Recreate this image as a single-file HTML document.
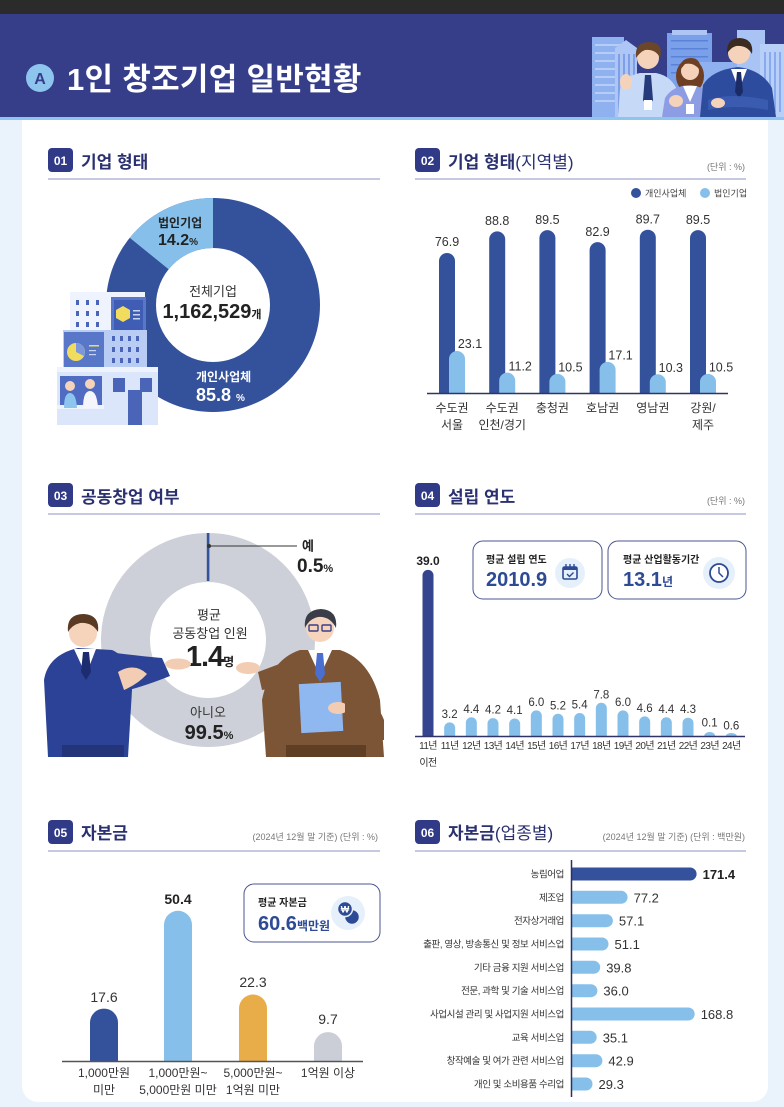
<!DOCTYPE html>
<html><head><meta charset="utf-8">
<style>
html,body{margin:0;padding:0;background:#eaf2fc;}
svg{display:block}
text{font-family:"Liberation Sans","Noto Sans CJK KR",sans-serif;fill:#333}
.b{font-weight:700}
.h{font-weight:700;fill:#2b3170;font-size:17px}
.hr{font-weight:400;fill:#2b3170;font-size:17px}
.badge{fill:#fff;font-weight:700;font-size:12px}
.u{font-size:9px;fill:#777}
.v2{font-size:12.5px;fill:#333}
.cat{font-size:12px;fill:#333}
.yr{font-size:10px;fill:#333;letter-spacing:-0.6px}
.v4{font-size:11.5px;fill:#333}
.c6{font-size:9.5px;fill:#333;letter-spacing:-0.4px}
.v6{font-size:13px;fill:#333}
</style></head><body>
<svg width="784" height="1107" viewBox="0 0 784 1107" xmlns="http://www.w3.org/2000/svg">
<rect width="784" height="1107" fill="#eaf2fc"/>
<rect x="22" y="100" width="746" height="1002" rx="16" fill="#fff"/>

<!-- HEADER -->
<rect x="0" y="0" width="784" height="14" fill="#2b2b2b"/>
<rect x="0" y="14" width="784" height="103" fill="#363e8a"/>
<rect x="592" y="37" width="32" height="80" fill="#8fb1f0"/>
<g fill="#b7cdf6"><rect x="595" y="44" width="26" height="2"/><rect x="595" y="52" width="26" height="2"/><rect x="595" y="60" width="26" height="2"/><rect x="595" y="68" width="26" height="2"/><rect x="595" y="76" width="26" height="2"/><rect x="595" y="84" width="26" height="2"/><rect x="595" y="92" width="26" height="2"/><rect x="595" y="100" width="26" height="2"/></g>
<polygon points="615,48 626,40 637,48 637,117 615,117" fill="#aec6f6"/>
<g fill="#7e9fe6"><rect x="618" y="54" width="2" height="60"/><rect x="623" y="54" width="2" height="60"/><rect x="628" y="54" width="2" height="60"/><rect x="633" y="54" width="2" height="60"/></g>
<rect x="667" y="33" width="45" height="84" fill="#7aa0ea"/>
<rect x="672" y="30" width="35" height="5" fill="#aec6f6"/>
<g fill="#5a82d8"><rect x="671" y="40" width="37" height="1.5"/><rect x="671" y="48" width="37" height="1.5"/><rect x="671" y="56" width="37" height="1.5"/><rect x="671" y="64" width="37" height="1.5"/><rect x="671" y="72" width="37" height="1.5"/></g>
<rect x="700" y="62" width="40" height="55" fill="#8fb1f0"/>
<rect x="737" y="30" width="28" height="87" fill="#a8c3f4"/>
<rect x="760" y="44" width="24" height="73" fill="#b8cff7"/>
<g fill="#8aaaf0"><rect x="764" y="52" width="2" height="60"/><rect x="769" y="52" width="2" height="60"/><rect x="774" y="52" width="2" height="60"/><rect x="779" y="52" width="2" height="60"/></g>
<path d="M618,117 L620,90 Q624,76 640,73 L656,73 Q672,76 678,92 L680,117 Z" fill="#c6d9f6"/>
<polygon points="645,75 651,75 653,100 648,108 643,100" fill="#243a7a"/>
<rect x="644" y="100" width="8" height="10" fill="#fff"/>
<ellipse cx="626" cy="82" rx="6" ry="8" fill="#f5d3bb"/>
<circle cx="648" cy="58" r="11" fill="#f5d3bb"/>
<path d="M636,58 Q634,42 650,42 Q664,43 660,58 Q656,49 645,50 Q640,52 636,58 Z" fill="#6b4628"/>
<ellipse cx="690" cy="76" rx="14" ry="17" fill="#6e3f22"/>
<path d="M662,117 L665,98 Q672,86 690,85 Q706,86 712,100 L714,117 Z" fill="#8d9de3"/>
<polygon points="683,86 697,86 690,102" fill="#fff"/>
<circle cx="690" cy="71" r="9" fill="#f5d3bb"/>
<path d="M680,70 Q680,58 691,58 Q701,58 700,70 Q694,62 685,64 Z" fill="#6e3f22"/>
<ellipse cx="676" cy="101" rx="7" ry="6" fill="#f5d3bb"/>
<rect x="686" y="104" width="8" height="10" fill="#fff"/>
<path d="M700,117 L703,85 Q712,70 738,67 Q762,70 772,88 L776,117 Z" fill="#2d4c9e"/>
<polygon points="731,69 747,69 739,90" fill="#fff"/>
<polygon points="737,72 741,72 743,92 739,98 735,92" fill="#1b2b66"/>
<path d="M708,100 Q730,92 768,100 L768,110 Q735,104 708,110 Z" fill="#3a5bb0"/>
<ellipse cx="718" cy="103" rx="7" ry="5" fill="#f5d3bb"/>
<circle cx="739" cy="53" r="11" fill="#f5d3bb"/>
<path d="M727,54 Q726,38 740,38 Q754,39 752,54 Q747,45 736,46 Q730,48 727,54 Z" fill="#3b2a1f"/>

<rect x="0" y="117" width="784" height="3" fill="#8ec5ee"/>
<circle cx="40" cy="78" r="14" fill="#8ec5ee"/>
<text x="40" y="84" text-anchor="middle" class="b" style="font-size:16px;fill:#363e8a">A</text>
<text x="67" y="90" class="b" style="font-size:31px;fill:#fff;letter-spacing:0.3px">1인 창조기업 일반현황</text>

<!-- SECTION HEADERS -->
<rect x="48" y="148" width="25" height="24" rx="4" fill="#303a87"/><text x="60.5" y="165" text-anchor="middle" class="badge">01</text>
<text x="81" y="168" class="h">기업 형태</text>
<line x1="48" y1="179" x2="380" y2="179" stroke="#b4b7d8" stroke-width="1.5"/>

<rect x="415" y="148" width="25" height="24" rx="4" fill="#303a87"/><text x="427.5" y="165" text-anchor="middle" class="badge">02</text>
<text x="448" y="168" class="h">기업 형태<tspan class="hr">(지역별)</tspan></text>
<text x="745" y="170" text-anchor="end" class="u">(단위 : %)</text>
<line x1="415" y1="179" x2="746" y2="179" stroke="#b4b7d8" stroke-width="1.5"/>

<rect x="48" y="483" width="25" height="24" rx="4" fill="#303a87"/><text x="60.5" y="500" text-anchor="middle" class="badge">03</text>
<text x="81" y="503" class="h">공동창업 여부</text>
<line x1="48" y1="514" x2="380" y2="514" stroke="#b4b7d8" stroke-width="1.5"/>

<rect x="415" y="483" width="25" height="24" rx="4" fill="#303a87"/><text x="427.5" y="500" text-anchor="middle" class="badge">04</text>
<text x="448" y="503" class="h">설립 연도</text>
<text x="745" y="504" text-anchor="end" class="u">(단위 : %)</text>
<line x1="415" y1="514" x2="746" y2="514" stroke="#b4b7d8" stroke-width="1.5"/>

<rect x="48" y="820" width="25" height="24" rx="4" fill="#303a87"/><text x="60.5" y="837" text-anchor="middle" class="badge">05</text>
<text x="81" y="839" class="h">자본금</text>
<text x="378" y="840" text-anchor="end" class="u">(2024년 12월 말 기준) (단위 : %)</text>
<line x1="48" y1="851" x2="380" y2="851" stroke="#b4b7d8" stroke-width="1.5"/>

<rect x="415" y="820" width="25" height="24" rx="4" fill="#303a87"/><text x="427.5" y="837" text-anchor="middle" class="badge">06</text>
<text x="448" y="839" class="h">자본금<tspan class="hr">(업종별)</tspan></text>
<text x="745" y="840" text-anchor="end" class="u">(2024년 12월 말 기준) (단위 : 백만원)</text>
<line x1="415" y1="851" x2="746" y2="851" stroke="#b4b7d8" stroke-width="1.5"/>

<!-- SECTION 01 donut -->
<circle cx="213" cy="305" r="82" fill="none" stroke="#34519c" stroke-width="50"/>
<path d="M213 198 A107 107 0 0 0 129.7 237.8 L168.6 269.2 A57 57 0 0 1 213 248 Z" fill="#86c0ea"/>
<text x="158" y="227" class="b" style="font-size:12px;fill:#222">법인기업</text>
<text x="158" y="245" class="b" style="font-size:16px;fill:#222">14.2<tspan style="font-size:10px">%</tspan></text>
<text x="213" y="296" text-anchor="middle" style="font-size:13px;fill:#333">전체기업</text>
<text x="212" y="318" text-anchor="middle" class="b" style="font-size:20px;fill:#222">1,162,529<tspan style="font-size:11px">개</tspan></text>
<text x="196" y="381" class="b" style="font-size:12px;fill:#fff">개인사업체</text>
<text x="196" y="401" class="b" style="font-size:18px;fill:#fff">85.8 <tspan style="font-size:10px;fill:#fff">%</tspan></text>
<rect x="70" y="292" width="75" height="45" fill="#eef3fd"/>
<g fill="#4a64b8">
<rect x="76" y="300" width="3" height="5"/><rect x="86" y="300" width="3" height="5"/><rect x="96" y="300" width="3" height="5"/>
<rect x="76" y="311" width="3" height="5"/><rect x="86" y="311" width="3" height="5"/><rect x="96" y="311" width="3" height="5"/>
<rect x="76" y="322" width="3" height="5"/><rect x="86" y="322" width="3" height="5"/><rect x="96" y="322" width="3" height="5"/>
</g>
<rect x="111" y="297" width="35" height="38" fill="#5877c9"/>
<rect x="114" y="300" width="29" height="32" fill="#3f5db5"/>
<polygon points="123,306 130,310 130,318 123,322 116,318 116,310" fill="#f2dc5d"/>
<g fill="#c7d5f5"><rect x="133" y="310" width="7" height="1.5"/><rect x="133" y="314" width="7" height="1.5"/><rect x="133" y="318" width="7" height="1.5"/></g>
<rect x="63" y="330" width="84" height="42" fill="#b9cdf4"/>
<rect x="64" y="332" width="40" height="40" fill="#5877c9"/>
<circle cx="76" cy="352" r="9" fill="#f2dc5d"/>
<path d="M76 352 L76 343 A9 9 0 0 1 84 356 Z" fill="#7b97dd"/>
<g fill="#f2dc5d"><rect x="89" y="345" width="10" height="1.5"/></g>
<g fill="#c7d5f5"><rect x="89" y="350" width="7" height="1.2"/><rect x="89" y="354" width="7" height="1.2"/></g>
<g fill="#4a64b8">
<rect x="112" y="336" width="3" height="5"/><rect x="120" y="336" width="3" height="5"/><rect x="128" y="336" width="3" height="5"/><rect x="136" y="336" width="3" height="5"/>
<rect x="112" y="347" width="3" height="5"/><rect x="120" y="347" width="3" height="5"/><rect x="128" y="347" width="3" height="5"/><rect x="136" y="347" width="3" height="5"/>
<rect x="112" y="358" width="3" height="5"/><rect x="120" y="358" width="3" height="5"/><rect x="128" y="358" width="3" height="5"/><rect x="136" y="358" width="3" height="5"/>
</g>
<rect x="57" y="367" width="101" height="58" fill="#dbe6fb"/>
<rect x="57" y="367" width="101" height="5" fill="#eef3fd"/>
<rect x="60" y="376" width="42" height="32" fill="#4f6cc2"/>
<rect x="57" y="405" width="47" height="4" fill="#eef3fd"/>
<circle cx="70" cy="386" r="5" fill="#f5d3bb"/><path d="M64 408 Q64 393 70 393 Q76 393 77 408Z" fill="#8ec5ee"/>
<circle cx="90" cy="384" r="5" fill="#f5d3bb"/><path d="M83 408 Q83 391 90 391 Q97 391 98 408Z" fill="#f4f6fb"/>
<rect x="113" y="378" width="12" height="14" fill="#4a64b8"/>
<rect x="140" y="378" width="12" height="14" fill="#4a64b8"/>
<rect x="128" y="390" width="14" height="35" fill="#4a64b8"/>

<!-- SECTION 02 bars -->
<circle cx="636" cy="193" r="5" fill="#34519c"/><text x="645" y="196.5" style="font-size:9px;fill:#444">개인사업체</text>
<circle cx="705" cy="193" r="5" fill="#86c0ea"/><text x="714" y="196.5" style="font-size:9px;fill:#444">법인기업</text>
<g fill="#34519c">
<path d="M439 393V261A8 8 0 0 1 455 261V393Z"/>
<path d="M489.2 393V239.4A8 8 0 0 1 505.2 239.4V393Z"/>
<path d="M539.4 393V238.1A8 8 0 0 1 555.4 238.1V393Z"/>
<path d="M589.6 393V250.1A8 8 0 0 1 605.6 250.1V393Z"/>
<path d="M639.8 393V237.7A8 8 0 0 1 655.8 237.7V393Z"/>
<path d="M690 393V238.1A8 8 0 0 1 706 238.1V393Z"/>
</g>
<g fill="#86c0ea">
<path d="M449 393V359A8 8 0 0 1 465 359V393Z"/>
<path d="M499.2 393V380.6A8 8 0 0 1 515.2 380.6V393Z"/>
<path d="M549.4 393V381.9A8 8 0 0 1 565.4 381.9V393Z"/>
<path d="M599.6 393V369.9A8 8 0 0 1 615.6 369.9V393Z"/>
<path d="M649.8 393V382.3A8 8 0 0 1 665.8 382.3V393Z"/>
<path d="M700 393V381.9A8 8 0 0 1 716 381.9V393Z"/>
</g>
<g text-anchor="middle">
<text x="447" y="246" class="v2">76.9</text>
<text x="497.2" y="225" class="v2">88.8</text>
<text x="547.4" y="224" class="v2">89.5</text>
<text x="597.6" y="236" class="v2">82.9</text>
<text x="647.8" y="223.5" class="v2">89.7</text>
<text x="698" y="224" class="v2">89.5</text>
<text x="470" y="348" class="v2">23.1</text>
<text x="520.2" y="370.5" class="v2">11.2</text>
<text x="570.4" y="371.5" class="v2">10.5</text>
<text x="620.6" y="359.5" class="v2">17.1</text>
<text x="670.8" y="372" class="v2">10.3</text>
<text x="721" y="371.5" class="v2">10.5</text>
</g>
<line x1="427" y1="393.5" x2="728" y2="393.5" stroke="#2f3566" stroke-width="1.5"/>
<g text-anchor="middle">
<text x="452" y="412" class="cat">수도권</text><text x="452" y="429" class="cat">서울</text>
<text x="502.2" y="412" class="cat">수도권</text><text x="502.2" y="429" class="cat">인천/경기</text>
<text x="552.4" y="412" class="cat">충청권</text>
<text x="602.6" y="412" class="cat">호남권</text>
<text x="652.8" y="412" class="cat">영남권</text>
<text x="703" y="412" class="cat">강원/</text><text x="703" y="429" class="cat">제주</text>
</g>

<!-- SECTION 03 donut -->
<circle cx="208" cy="640" r="82.5" fill="none" stroke="#cdd0d8" stroke-width="49"/>
<rect x="206.8" y="533" width="2.6" height="48" fill="#34519c"/>
<line x1="209" y1="546" x2="297" y2="546" stroke="#333" stroke-width="1"/>
<circle cx="209" cy="546" r="2" fill="#333"/>
<text x="302" y="550.5" class="b" style="font-size:13px;fill:#222">예</text>
<text x="297" y="572" class="b" style="font-size:19px;fill:#222">0.5<tspan style="font-size:11px">%</tspan></text>
<text x="209" y="619.5" text-anchor="middle" style="font-size:13px;fill:#333">평균</text>
<text x="210" y="638" text-anchor="middle" style="font-size:13px;fill:#333">공동창업 인원</text>
<text x="210" y="666" text-anchor="middle" class="b" style="font-size:29px;fill:#222;letter-spacing:-1px">1.4<tspan style="font-size:12px;letter-spacing:0">명</tspan></text>
<text x="208" y="717" text-anchor="middle" style="font-size:13px;fill:#333">아니오</text>
<text x="209" y="739" text-anchor="middle" class="b" style="font-size:20px;fill:#222">99.5<tspan style="font-size:11px">%</tspan></text>
<path d="M44,680 Q48,655 78,648 L112,650 Q128,656 132,690 L128,757 L48,757 Z" fill="#2b4296"/>
<path d="M108,652 Q130,655 162,658 L170,676 Q140,688 120,692 Z" fill="#2b4296"/>
<ellipse cx="178" cy="664" rx="13" ry="5.5" fill="#f3cdb3"/>
<path d="M118,672 Q135,662 147,674 Q138,684 124,690 Z" fill="#f3cdb3"/>
<polygon points="74,649 96,649 86,675" fill="#fff"/>
<polygon points="83,652 89,652 91,672 86,680 81,672" fill="#1d2c6e"/>
<rect x="62" y="745" width="62" height="12" fill="#233478"/>
<circle cx="83" cy="633" r="14" fill="#f6d3bb"/>
<path d="M68,632 Q66,614 84,614 Q100,615 98,632 Q92,622 80,623 Q72,625 68,632 Z" fill="#5a3a22"/>
<path d="M262,700 Q270,660 300,650 L340,650 Q370,660 380,700 L384,757 L266,757 Z" fill="#7b5536"/>
<path d="M290,660 L258,672 L262,690 L295,684 Z" fill="#7b5536"/>
<ellipse cx="248" cy="668" rx="12" ry="6" fill="#f3cdb3"/>
<polygon points="308,650 332,650 320,676" fill="#fff"/>
<polygon points="317,653 323,653 325,674 320,682 315,674" fill="#4a6fd0"/>
<rect x="300" y="683" width="42" height="49" fill="#90b8f0" transform="rotate(-3 321 707)"/>
<ellipse cx="338" cy="708" rx="10" ry="6" fill="#f3cdb3"/>
<path d="M345,690 Q372,690 384,720 L384,740 Q360,740 345,718 Z" fill="#7b5536"/>
<rect x="286" y="745" width="80" height="12" fill="#5e3f26"/>
<circle cx="320" cy="628" r="14" fill="#f6d3bb"/>
<path d="M305,628 Q303,610 321,609 Q338,610 336,628 Q330,616 318,617 Q309,619 305,628 Z" fill="#3a3d47"/>
<rect x="309" y="625" width="9" height="6" rx="1" fill="none" stroke="#3b3f8a" stroke-width="1.4"/>
<rect x="322" y="625" width="9" height="6" rx="1" fill="none" stroke="#3b3f8a" stroke-width="1.4"/>

<!-- SECTION 04 -->
<rect x="473" y="541" width="129" height="58" rx="10" fill="#fff" stroke="#4a5490" stroke-width="1"/>
<text x="486" y="563" class="b" style="font-size:10px;fill:#222">평균 설립 연도</text>
<text x="486" y="586" class="b" style="font-size:20px;fill:#2d4a95">2010.9</text>
<circle cx="570" cy="573" r="15" fill="#e6f0fb"/>
<rect x="563" y="567" width="14" height="12" rx="1.5" fill="none" stroke="#2d4a95" stroke-width="1.6"/>
<rect x="563" y="567" width="14" height="3" fill="#2d4a95"/>
<g stroke="#2d4a95" stroke-width="1.4"><line x1="566" y1="564" x2="566" y2="568"/><line x1="570" y1="564" x2="570" y2="568"/><line x1="574" y1="564" x2="574" y2="568"/></g>
<polyline points="567,574 569.5,576.5 573.5,572.5" fill="none" stroke="#2d4a95" stroke-width="1.4"/>

<rect x="608" y="541" width="138" height="58" rx="10" fill="#fff" stroke="#4a5490" stroke-width="1"/>
<text x="623" y="563" class="b" style="font-size:10px;fill:#222">평균 산업활동기간</text>
<text x="623" y="586" class="b" style="font-size:20px;fill:#2d4a95">13.1<tspan style="font-size:12px">년</tspan></text>
<circle cx="719" cy="573" r="16" fill="#e6f0fb"/>
<circle cx="719" cy="573" r="9" fill="#fff" stroke="#2d4a95" stroke-width="1.8"/>
<polyline points="719,567 719,573 723,577" fill="none" stroke="#2d4a95" stroke-width="1.5"/>

<path d="M422.5 736V575.4A5.5 5.5 0 0 1 433.5 575.4V736Z" fill="#34448f"/>
<g fill="#86c0ea">
<path d="M444.17 736V727.9A5.5 5.5 0 0 1 455.17 727.9V736Z"/>
<path d="M465.83 736V722.8A5.5 5.5 0 0 1 476.83 722.8V736Z"/>
<path d="M487.5 736V723.6A5.5 5.5 0 0 1 498.5 723.6V736Z"/>
<path d="M509.17 736V724A5.5 5.5 0 0 1 520.17 724V736Z"/>
<path d="M530.83 736V715.9A5.5 5.5 0 0 1 541.83 715.9V736Z"/>
<path d="M552.5 736V719.3A5.5 5.5 0 0 1 563.5 719.3V736Z"/>
<path d="M574.17 736V718.5A5.5 5.5 0 0 1 585.17 718.5V736Z"/>
<path d="M595.83 736V708.3A5.5 5.5 0 0 1 606.83 708.3V736Z"/>
<path d="M617.5 736V715.9A5.5 5.5 0 0 1 628.5 715.9V736Z"/>
<path d="M639.17 736V721.9A5.5 5.5 0 0 1 650.17 721.9V736Z"/>
<path d="M660.83 736V722.8A5.5 5.5 0 0 1 671.83 722.8V736Z"/>
<path d="M682.5 736V723.2A5.5 5.5 0 0 1 693.5 723.2V736Z"/>
<path d="M704.17 736A5.5 4 0 0 1 715.17 736Z"/>
<path d="M725.83 736A5.5 3 0 0 1 736.83 736Z"/>
</g>
<text x="428" y="565" text-anchor="middle" class="b" style="font-size:12px;fill:#222">39.0</text>
<g text-anchor="middle">
<text x="449.67" y="718" class="v4">3.2</text>
<text x="471.33" y="712.8" class="v4">4.4</text>
<text x="493" y="713.6" class="v4">4.2</text>
<text x="514.67" y="714" class="v4">4.1</text>
<text x="536.33" y="705.9" class="v4">6.0</text>
<text x="558" y="709.3" class="v4">5.2</text>
<text x="579.67" y="708.5" class="v4">5.4</text>
<text x="601.33" y="698.3" class="v4">7.8</text>
<text x="623" y="705.9" class="v4">6.0</text>
<text x="644.67" y="711.9" class="v4">4.6</text>
<text x="666.33" y="712.8" class="v4">4.4</text>
<text x="688" y="713.2" class="v4">4.3</text>
<text x="709.67" y="726.5" class="v4">0.1</text>
<text x="731.33" y="729.5" class="v4">0.6</text>
</g>
<line x1="415" y1="736.5" x2="745" y2="736.5" stroke="#2f3566" stroke-width="1.5"/>
<g text-anchor="middle">
<text x="428" y="749" class="yr">11년</text><text x="428" y="766" class="yr">이전</text>
<text x="449.67" y="749" class="yr">11년</text>
<text x="471.33" y="749" class="yr">12년</text>
<text x="493" y="749" class="yr">13년</text>
<text x="514.67" y="749" class="yr">14년</text>
<text x="536.33" y="749" class="yr">15년</text>
<text x="558" y="749" class="yr">16년</text>
<text x="579.67" y="749" class="yr">17년</text>
<text x="601.33" y="749" class="yr">18년</text>
<text x="623" y="749" class="yr">19년</text>
<text x="644.67" y="749" class="yr">20년</text>
<text x="666.33" y="749" class="yr">21년</text>
<text x="688" y="749" class="yr">22년</text>
<text x="709.67" y="749" class="yr">23년</text>
<text x="731.33" y="749" class="yr">24년</text>
</g>

<!-- SECTION 05 -->
<rect x="244" y="884" width="136" height="58" rx="10" fill="#fff" stroke="#4a5490" stroke-width="1"/>
<text x="258" y="906" class="b" style="font-size:10px;fill:#222">평균 자본금</text>
<text x="258" y="930" class="b" style="font-size:20px;fill:#2d4a95">60.6<tspan style="font-size:12px">백만원</tspan></text>
<circle cx="348" cy="913" r="17" fill="#e6f0fb"/>
<circle cx="352" cy="917" r="7.5" fill="#2d4a95" stroke="#e6f0fb" stroke-width="1.5"/>
<circle cx="345" cy="909" r="7.5" fill="#2d4a95" stroke="#e6f0fb" stroke-width="1.5"/>
<text x="345" y="912.5" text-anchor="middle" class="b" style="font-size:9px;fill:#fff">₩</text>
<path d="M90 1061V1022.6A14 14 0 0 1 118 1022.6V1061Z" fill="#34519c"/>
<path d="M164 1061V924.8A14 14 0 0 1 192 924.8V1061Z" fill="#86c0ea"/>
<path d="M239 1061V1008.5A14 14 0 0 1 267 1008.5V1061Z" fill="#e8ad48"/>
<path d="M314 1061V1046.1A14 14 0 0 1 342 1046.1V1061Z" fill="#cbced6"/>
<line x1="62" y1="1061.5" x2="363" y2="1061.5" stroke="#555" stroke-width="1.5"/>
<g text-anchor="middle">
<text x="104" y="1002" style="font-size:14px;fill:#333">17.6</text>
<text x="178" y="904" class="b" style="font-size:14px;fill:#222">50.4</text>
<text x="253" y="987" style="font-size:14px;fill:#333">22.3</text>
<text x="328" y="1024" style="font-size:14px;fill:#333">9.7</text>
<text x="104" y="1077" class="cat">1,000만원</text><text x="104" y="1094" class="cat">미만</text>
<text x="178" y="1077" class="cat">1,000만원~</text><text x="178" y="1094" class="cat">5,000만원 미만</text>
<text x="253" y="1077" class="cat">5,000만원~</text><text x="253" y="1094" class="cat">1억원 미만</text>
<text x="328" y="1077" class="cat">1억원 이상</text>
</g>

<!-- SECTION 06 -->
<path d="M571 867.5H690.1A6.5 6.5 0 0 1 690.1 880.5H571Z" fill="#34519c"/>
<g fill="#86c0ea">
<path d="M571 890.8H621.1A6.5 6.5 0 0 1 621.1 903.8H571Z"/>
<path d="M571 914.2H606.4A6.5 6.5 0 0 1 606.4 927.2H571Z"/>
<path d="M571 937.5H602A6.5 6.5 0 0 1 602 950.5H571Z"/>
<path d="M571 960.8H593.7A6.5 6.5 0 0 1 593.7 973.8H571Z"/>
<path d="M571 984.2H590.9A6.5 6.5 0 0 1 590.9 997.2H571Z"/>
<path d="M571 1007.5H688.2A6.5 6.5 0 0 1 688.2 1020.5H571Z"/>
<path d="M571 1030.8H590.2A6.5 6.5 0 0 1 590.2 1043.8H571Z"/>
<path d="M571 1054.2H595.9A6.5 6.5 0 0 1 595.9 1067.2H571Z"/>
<path d="M571 1077.5H586A6.5 6.5 0 0 1 586 1090.5H571Z"/>
</g>
<line x1="571.5" y1="860" x2="571.5" y2="1097" stroke="#2c3160" stroke-width="1.5"/>
<text x="702.6" y="879" class="b" style="font-size:13px;fill:#222">171.4</text>
<text x="633.6" y="902.3" class="v6">77.2</text>
<text x="618.9" y="925.7" class="v6">57.1</text>
<text x="614.5" y="949" class="v6">51.1</text>
<text x="606.2" y="972.3" class="v6">39.8</text>
<text x="603.4" y="995.7" class="v6">36.0</text>
<text x="700.7" y="1019" class="v6">168.8</text>
<text x="602.7" y="1042.3" class="v6">35.1</text>
<text x="608.4" y="1065.7" class="v6">42.9</text>
<text x="598.5" y="1089" class="v6">29.3</text>
<g text-anchor="end">
<text x="564" y="877.5" class="c6">농림어업</text>
<text x="564" y="900.8" class="c6">제조업</text>
<text x="564" y="924.2" class="c6">전자상거래업</text>
<text x="564" y="947.5" class="c6">출판, 영상, 방송통신 및 정보 서비스업</text>
<text x="564" y="970.8" class="c6">기타 금융 지원 서비스업</text>
<text x="564" y="994.2" class="c6">전문, 과학 및 기술 서비스업</text>
<text x="564" y="1017.5" class="c6">사업시설 관리 및 사업지원 서비스업</text>
<text x="564" y="1040.8" class="c6">교육 서비스업</text>
<text x="564" y="1064.2" class="c6">창작예술 및 여가 관련 서비스업</text>
<text x="564" y="1087.5" class="c6">개인 및 소비용품 수리업</text>
</g>
</svg>
</body></html>
